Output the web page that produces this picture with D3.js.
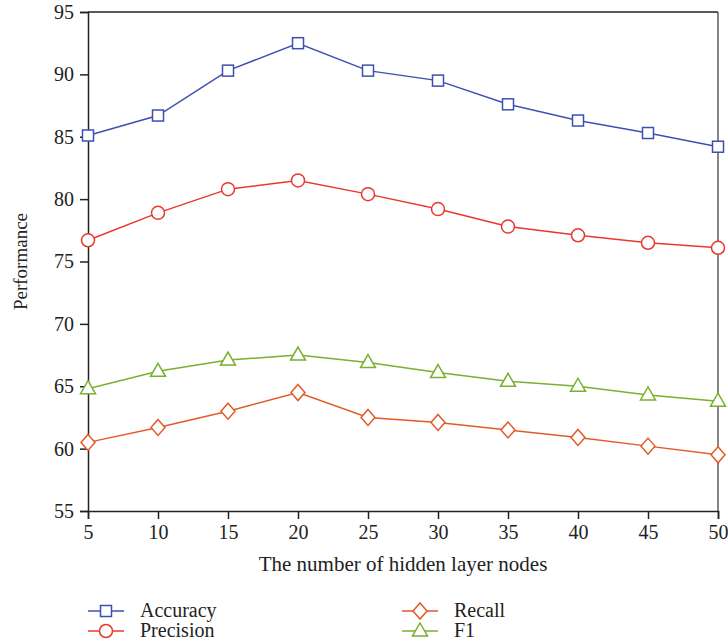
<!DOCTYPE html>
<html><head><meta charset="utf-8">
<script src="https://cdn.jsdelivr.net/npm/d3@7"></script>
<style>body{margin:0;background:#fff}svg{display:block}text{font-family:"Liberation Serif","DejaVu Serif",serif;fill:#222}</style>
</head><body>
<svg id="c" width="728" height="644"></svg>
<script>
const xValues=[5,10,15,20,25,30,35,40,45,50];
const accuracy=[85.1,86.7,90.3,92.5,90.3,89.5,87.6,86.3,85.3,84.2];
const precision=[76.7,78.9,80.8,81.5,80.4,79.2,77.8,77.1,76.5,76.1];
const recall=[60.5,61.7,63.0,64.5,62.5,62.1,61.5,60.9,60.2,59.5];
const f1=[64.8,66.2,67.1,67.5,66.9,66.1,65.4,65.0,64.3,63.8];
const yTicks=[55,60,65,70,75,80,85,90,95];
const seriesNames=["Accuracy","Precision","Recall","F1"];

const svg=d3.select("#c");
const L=88,R=718,T=12,B=511;
const x=d3.scaleLinear().domain([5,50]).range([L,R]);
const y=d3.scaleLinear().domain([55,95]).range([B,T]);

const series=[
 {name:"Accuracy",vals:accuracy,color:"#3d50b0",shape:"square"},
 {name:"Precision",vals:precision,color:"#e8382e",shape:"circle"},
 {name:"Recall",vals:recall,color:"#e35a27",shape:"diamond"},
 {name:"F1",vals:f1,color:"#78b02f",shape:"triangle"}
];

function marker(g,shape,cx,cy,color){
  const s={fill:"#fff",stroke:color,"stroke-width":1.5};
  let el;
  if(shape==="square") el=g.append("rect").attr("x",cx-5.5).attr("y",cy-5.5).attr("width",11).attr("height",11);
  else if(shape==="circle") el=g.append("circle").attr("cx",cx).attr("cy",cy).attr("r",6.5);
  else if(shape==="diamond") el=g.append("path").attr("d",`M${cx},${cy-8}L${cx+7},${cy}L${cx},${cy+8}L${cx-7},${cy}Z`);
  else el=g.append("path").attr("d",`M${cx},${cy-8}L${cx+7.5},${cy+5}L${cx-7.5},${cy+5}Z`);
  for(const k in s) el.attr(k,s[k]);
}

// frame
svg.append("line").attr("x1",L).attr("x2",R).attr("y1",T).attr("y2",T).attr("stroke","#222").attr("stroke-width",1.3);
svg.append("line").attr("x1",R).attr("x2",R).attr("y1",T).attr("y2",B).attr("stroke","#444").attr("stroke-width",1.3);

const yAxis=svg.append("g").attr("transform",`translate(${L},0)`)
  .call(d3.axisLeft(y).tickValues(yTicks).tickSize(8).tickPadding(6));
const xAxis=svg.append("g").attr("transform",`translate(0,${B})`)
  .call(d3.axisBottom(x).tickValues(xValues).tickSize(8).tickPadding(6));
[yAxis,xAxis].forEach(a=>{
  a.select(".domain").attr("stroke","#222").attr("stroke-width",1.5);
  a.selectAll(".tick line").attr("stroke","#222").attr("stroke-width",1.5);
  a.selectAll(".tick text").style("font-family",'"Liberation Serif",serif').style("font-size","20px").attr("fill","#222");
});

svg.append("text").attr("x",(L+R)/2).attr("y",571).attr("text-anchor","middle").style("font-size","21px").text("The number of hidden layer nodes");
svg.append("text").attr("transform",`translate(27,${(T+B)/2}) rotate(-90)`).attr("text-anchor","middle").style("font-size","19px").text("Performance");

const line=d3.line().x((d,i)=>x(xValues[i])).y(d=>y(d));
series.forEach(s=>{
  svg.append("path").datum(s.vals).attr("d",line).attr("fill","none").attr("stroke",s.color).attr("stroke-width",1.5);
  const g=svg.append("g");
  s.vals.forEach((v,i)=>marker(g,s.shape,x(xValues[i]),y(v),s.color));
});

// legend
const legPos=[[88,611],[88,631],[402,611],[402,631]];
series.forEach((s,i)=>{
  const [lx,ly]=legPos[i];
  svg.append("line").attr("x1",lx).attr("x2",lx+36).attr("y1",ly).attr("y2",ly).attr("stroke",s.color).attr("stroke-width",1.5);
  const g=svg.append("g");
  marker(g,s.shape,lx+18,ly,s.color);
  svg.append("text").attr("x",lx+52).attr("y",ly+6).style("font-size","20px").text(seriesNames[i]);
});
</script>
</body></html>
